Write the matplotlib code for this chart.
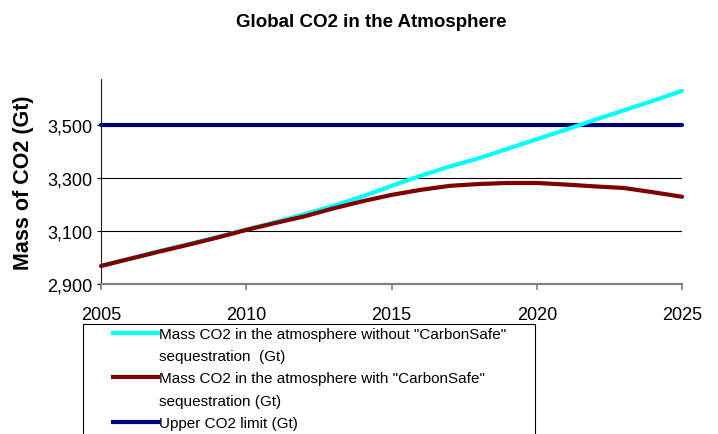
import matplotlib
matplotlib.use("Agg")
import matplotlib.pyplot as plt
from matplotlib.lines import Line2D
from matplotlib.patches import Rectangle
from matplotlib.ticker import FuncFormatter

plt.rcParams['font.family'] = ['Liberation Sans', 'DejaVu Sans']

years = list(range(2005, 2026))
# Gt
without_cs = [2968, 2996, 3024, 3050, 3077, 3105, 3133, 3163, 3195, 3230, 3270,
              3308, 3343, 3374, 3410, 3446, 3482, 3519, 3555, 3591, 3628]
with_cs = [2968, 2995, 3022, 3048, 3075, 3104, 3130, 3155, 3185, 3212, 3236,
           3255, 3270, 3277, 3281, 3281, 3275, 3268, 3262, 3246, 3229]
limit = [3500] * len(years)

labels = ['Mass CO2 in the atmosphere without "CarbonSafe"', 'sequestration  (Gt)',
          'Mass CO2 in the atmosphere with "CarbonSafe"', 'sequestration (Gt)',
          'Upper CO2 limit (Gt)']
yticks = [2900, 3100, 3300, 3500]
xticks = [2005, 2010, 2015, 2020, 2025]

W, H = 718, 435
fig = plt.figure(figsize=(W / 100, H / 100), dpi=100)
ax = fig.add_axes([101 / W, 1 - 285 / H, (682 - 101) / W, (285 - 80) / H])

for v in yticks[1:]:
    ax.axhline(v, color='black', lw=0.8, zorder=1)

kw = dict(lw=3, solid_capstyle='round', clip_on=False, zorder=3)
ax.plot(years, limit, color='#000080', **kw)
ax.plot(years, without_cs, color='#00FFFF', **kw)
ax.plot(years, with_cs, color='#800000', **kw)

ax.set_xlim(2005, 2025)
ax.set_ylim(2900, 3673)
ax.set_xticks(xticks)
ax.set_yticks(yticks)
ax.yaxis.set_major_formatter(FuncFormatter(lambda v, p: f'{int(v):,}'))
ax.tick_params(axis='x', length=4, width=1.2, color='#808080', pad=12, labelsize=13)
ax.tick_params(axis='y', length=3, width=0.8, color='black', pad=3, labelsize=13)

for s in ['top', 'right']:
    ax.spines[s].set_visible(False)
ax.spines['bottom'].set_color('#808080')
ax.spines['bottom'].set_linewidth(1.6)
ax.spines['left'].set_color('#222222')
ax.spines['left'].set_linewidth(0.8)

ax.set_ylabel('Mass of CO2 (Gt)', fontsize=15.5, fontweight='bold')
ax.yaxis.set_label_coords(-(101 - 34) / 581, 0.5)

fig.text(371 / W, 1 - 27 / H, 'Global CO2 in the Atmosphere', ha='center',
         va='baseline', fontsize=13.5, fontweight='bold')

# legend box (Excel style, runs off the bottom)
fig.patches.append(Rectangle((83 / W, -0.02), (535 - 83) / W, (1 - 325 / H) + 0.02,
                             transform=fig.transFigure, fill=False,
                             edgecolor='black', lw=0.8))
blank = Line2D([], [], color='none')
handles = [Line2D([], [], color='#00FFFF', lw=3), blank,
           Line2D([], [], color='#800000', lw=3), blank,
           Line2D([], [], color='#000080', lw=3)]
fig.legend(handles, labels, loc='upper left', bbox_to_anchor=(113 / W, 1 - 328 / H),
           frameon=False, fontsize=11, borderpad=0, borderaxespad=0,
           handlelength=2.95, handletextpad=0.05, labelspacing=0.54)

fig.savefig('out.png', dpi=100)
